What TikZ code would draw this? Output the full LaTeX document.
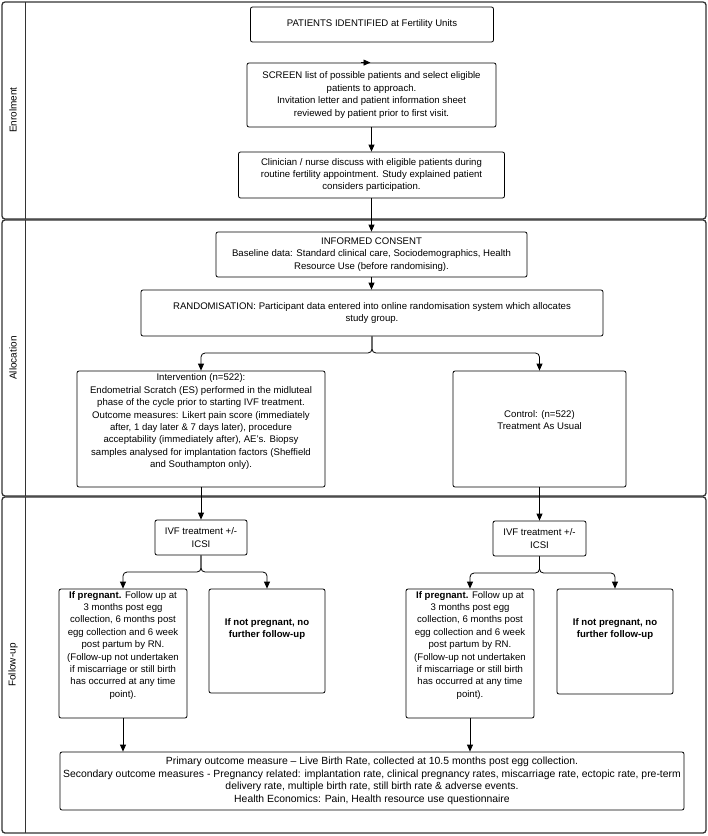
\documentclass[tikz,border=0pt]{standalone}
\usepackage{fontspec}
\setmainfont{Liberation Sans}
\usetikzlibrary{arrows.meta}
\begin{document}
\begin{tikzpicture}[x=1pt,y=-1pt,
  box/.style={draw=black,line width=0.8pt,rounded corners=2pt,align=center,inner sep=2pt,
    font=\fontsize{9.6}{12.4}\selectfont},
  lane/.style={draw=black!80,line width=1.3pt,rounded corners=3pt},
  lanelabel/.style={rotate=90,font=\fontsize{10}{12}\selectfont},
  arr/.style={line width=0.8pt,-{Triangle[length=7pt,width=6pt]}},
  ln/.style={line width=0.8pt}]
\useasboundingbox (0,0) rectangle (708,836);
% lanes
\draw[lane] (2,2) rectangle (706,219);
\draw[lane] (2,220) rectangle (706,496);
\draw[lane] (2,497) rectangle (706,833);
\draw[ln,black!80] (25,2) -- (25,219);
\draw[ln,black!80] (25,220) -- (25,496);
\draw[ln,black!80] (25,497) -- (25,833);
\node[lanelabel] (lab1) at (13,110) {Enrolment};
\node[lanelabel] (lab2) at (13,358) {Allocation};
\node[lanelabel] (lab3) at (13,665) {Follow-up};
% boxes
\node[box,minimum width=243pt,minimum height=35pt] (pat) at (372,24.5) {PATIENTS IDENTIFIED at Fertility Units};
\node[box,minimum width=249pt,minimum height=64pt] (scr) at (371.5,95) {SCREEN list of possible patients and select eligible\\ patients to approach.\\ Invitation letter and patient information sheet\\ reviewed by patient prior to first visit.};
\node[box,minimum width=266pt,minimum height=46pt] (cli) at (371.5,175) {Clinician / nurse discuss with eligible patients during\\ routine fertility appointment. Study explained patient\\ considers participation.};
\node[box,minimum width=311pt,minimum height=45pt] (con) at (371.5,254.5) {INFORMED CONSENT\\ Baseline data: Standard clinical care, Sociodemographics, Health\\ Resource Use (before randomising).};
\node[box,minimum width=462pt,minimum height=46pt] (ran) at (372,313) {RANDOMISATION: Participant data entered into online randomisation system which allocates\\ study group.};
\node[box,minimum width=248pt,minimum height=116pt] (int) at (201,429) {Intervention (n=522):\\ Endometrial Scratch (ES) performed in the midluteal\\ phase of the cycle prior to starting IVF treatment.\\ Outcome measures: Likert pain score (immediately\\ after, 1 day later \& 7 days later), procedure\\ acceptability (immediately after), AE's. Biopsy\\ samples analysed for implantation factors (Sheffield\\ and Southampton only).\\[4pt]};
\node[box,minimum width=173pt,minimum height=116pt] (ctl) at (539.5,429) {Control: (n=522)\\ Treatment As Usual\\[6pt]};
\node[box,minimum width=92pt,minimum height=35pt] (ivfL) at (201,537.5) {IVF treatment +/-\\ ICSI};
\node[box,minimum width=93pt,minimum height=35pt] (ivfR) at (539.5,538.5) {IVF treatment +/-\\ ICSI};
\node[box,minimum width=128pt,minimum height=129pt] (pregL) at (123,653.5) {\textbf{If pregnant.} Follow up at\\ 3 months post egg\\ collection, 6 months post\\ egg collection and 6 week\\ post partum by RN.\\ (Follow-up not undertaken\\ if miscarriage or still birth\\ has occurred at any time\\ point).\\[6pt]};
\node[box,minimum width=116pt,minimum height=104pt] (notL) at (267,641) {\textbf{If not pregnant, no}\\ \textbf{further follow-up}\\[14pt]};
\node[box,minimum width=128pt,minimum height=129pt] (pregR) at (470,653.5) {\textbf{If pregnant.} Follow up at\\ 3 months post egg\\ collection, 6 months post\\ egg collection and 6 week\\ post partum by RN.\\ (Follow-up not undertaken\\ if miscarriage or still birth\\ has occurred at any time\\ point).\\[6pt]};
\node[box,minimum width=116pt,minimum height=105pt] (notR) at (615,641.5) {\textbf{If not pregnant, no}\\ \textbf{further follow-up}\\[14pt]};
\node[box,minimum width=624pt,minimum height=58pt,font=\fontsize{10.4}{12.6}\selectfont] (out) at (372,781) {Primary outcome measure – Live Birth Rate, collected at 10.5 months post egg collection.\\ Secondary outcome measures - Pregnancy related: implantation rate, clinical pregnancy rates, miscarriage rate, ectopic rate, pre-term\\ delivery rate, multiple birth rate, still birth rate \& adverse events.\\ Health Economics: Pain, Health resource use questionnaire};
% connectors
\coordinate (tipA) at ([xshift=-11pt]scr.north);
\draw[arr] (tipA) -- ([xshift=-1pt]scr.north);
\draw[arr] (scr.south) -- (scr.south |- cli.north);
\draw[arr] (cli.south) -- (cli.south |- con.north);
\draw[arr] (con.south) -- (con.south |- ran.north);
\coordinate (brA) at (372,353);
\draw[arr,rounded corners=4pt] (ran.south) -- (brA) -| (int.north);
\draw[arr,rounded corners=4pt] (ran.south) -- (brA) -| (ctl.north);
\draw[arr] (int.south) -- (ivfL.north);
\draw[arr] (ctl.south) -- (ivfR.north);
\coordinate (brL) at (201,572);
\draw[arr,rounded corners=4pt] (ivfL.south) -- (brL) -| (pregL.north);
\draw[arr,rounded corners=4pt] (ivfL.south) -- (brL) -| (notL.north);
\coordinate (brR) at (539.5,573);
\draw[arr,rounded corners=4pt] (ivfR.south) -- (brR) -| (pregR.north);
\draw[arr,rounded corners=4pt] (ivfR.south) -- (brR) -| (notR.north);
\draw[arr] (pregL.south) -- (pregL.south |- out.north);
\draw[arr] (pregR.south) -- (pregR.south |- out.north);
\end{tikzpicture}
\end{document}
